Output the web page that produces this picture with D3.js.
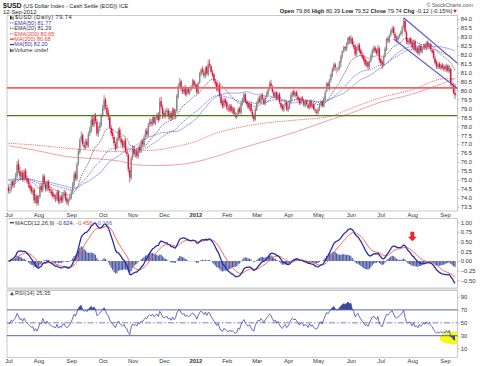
<!DOCTYPE html>
<html><head><meta charset="utf-8">
<script src="https://cdn.jsdelivr.net/npm/d3@7"></script>
<style>body{margin:0;background:#fff}svg{display:block;font-family:Arial,"Liberation Sans",sans-serif}text{white-space:pre}</style>
</head><body><svg id="c" width="480" height="366"></svg>
<script>
// ---------- DATA (daily, weekdays 1-Jul-2011 .. 12-Sep-2012) ----------
const closes = [
74.40,74.45,74.85,74.70,74.95,75.25,75.85,75.55,75.20,75.35,75.05,75.45,75.10,74.90,74.75,74.55,74.35,74.40,73.85,74.05,73.70,
74.00,74.60,74.45,75.15,74.80,74.50,74.85,74.55,74.40,74.25,74.10,74.05,73.95,74.30,73.80,74.00,73.85,74.15,74.25,73.90,73.75,73.85,74.05,
74.30,74.75,75.30,75.10,75.85,76.60,77.20,77.45,77.00,76.85,77.10,76.95,77.55,77.80,78.35,78.10,78.55,78.30,77.60,77.85,78.10,78.55,
79.00,79.45,79.10,78.70,78.55,77.95,77.60,77.45,77.05,76.75,77.30,77.75,77.35,77.10,76.90,77.15,76.60,76.45,75.60,75.15,76.20,
76.70,76.45,76.55,76.35,76.80,76.65,77.10,77.00,77.35,77.70,77.55,78.05,78.30,78.15,78.45,78.20,78.40,78.60,78.35,79.35,79.10,78.70,
78.60,78.75,78.85,78.55,78.70,78.45,78.90,78.60,78.80,79.70,80.25,80.45,80.10,79.95,80.15,79.80,80.05,79.90,80.00,80.20,80.50,80.30,
80.25,79.90,80.40,80.95,81.15,81.05,80.85,81.25,80.95,81.45,81.40,81.05,80.85,80.55,80.40,80.05,80.25,79.70,79.30,79.15,79.45,79.30,
79.05,78.95,79.10,78.85,78.95,78.70,78.55,78.60,78.95,78.80,79.25,79.50,79.75,79.40,79.25,79.05,79.20,78.85,78.55,78.40,78.95,
79.25,79.50,79.40,79.70,79.55,79.30,79.60,79.85,80.05,80.35,80.25,79.95,79.70,79.85,79.55,79.75,79.35,79.10,78.95,79.15,79.30,78.95,
79.10,79.35,79.75,79.90,79.75,79.85,79.70,79.50,79.30,79.55,79.45,79.20,79.35,79.25,79.05,79.35,79.10,79.20,78.95,78.85,78.80,
78.95,79.20,79.35,79.15,79.55,79.90,80.35,80.25,80.60,80.90,81.20,81.45,81.30,81.20,81.25,81.55,81.90,82.20,82.40,82.35,82.60,82.95,82.85,
82.95,82.60,82.45,82.05,82.35,82.50,82.20,82.05,81.85,81.70,81.45,81.55,81.35,81.60,81.95,82.25,82.35,82.20,82.10,82.40,81.70,
81.55,81.45,81.90,82.35,82.85,82.80,83.05,83.35,83.45,83.20,82.95,82.85,83.00,83.10,83.25,83.50,83.85,83.30,82.75,82.70,82.85,82.65,
82.40,82.70,82.25,82.35,82.10,82.45,82.20,82.35,82.50,82.40,82.65,82.45,82.55,82.30,82.15,81.85,81.55,81.35,81.45,81.30,81.40,81.25,81.30,
81.20,81.35,81.10,81.25,80.40,80.30,79.86,79.74];
const opens = [
74.55,74.40,74.50,74.90,74.65,75.00,75.20,75.90,75.50,75.15,75.40,75.00,75.50,75.05,74.95,74.70,74.60,74.30,74.45,73.80,74.10,
73.75,74.05,74.65,74.40,75.20,74.75,74.45,74.90,74.50,74.35,74.30,74.15,74.00,73.90,74.35,73.75,74.05,73.80,74.10,74.30,73.95,73.70,73.90,
74.00,74.35,74.70,75.35,75.05,75.90,76.55,77.25,77.50,76.95,76.80,77.15,76.90,77.60,77.75,78.40,78.05,78.60,78.25,77.55,77.90,78.05,
78.60,78.95,79.50,79.05,78.75,78.50,77.90,77.65,77.40,77.00,76.80,77.25,77.80,77.30,77.15,76.85,77.20,76.55,76.40,75.55,75.10,
76.25,76.75,76.40,76.60,76.30,76.85,76.60,77.15,76.95,77.40,77.75,77.50,78.10,78.25,78.10,78.50,78.15,78.45,78.65,78.40,79.40,79.05,
78.75,78.55,78.80,78.90,78.50,78.75,78.40,78.95,78.55,78.85,79.65,80.30,80.50,80.05,79.90,80.20,79.75,80.10,79.85,80.05,80.15,80.55,
80.30,80.30,79.85,80.45,80.90,81.20,81.00,80.80,81.30,80.90,81.50,81.35,81.00,80.90,80.50,80.45,80.00,80.30,79.65,79.35,79.10,79.50,
79.35,79.00,78.90,79.15,78.80,79.00,78.65,78.50,78.65,79.00,78.75,79.30,79.45,79.80,79.35,79.30,79.00,79.25,78.80,78.60,78.35,
78.90,79.30,79.55,79.35,79.75,79.50,79.25,79.65,79.80,80.10,80.40,80.20,79.90,79.65,79.90,79.50,79.80,79.30,79.15,78.90,79.20,79.35,
78.90,79.05,79.40,79.70,79.95,79.70,79.90,79.65,79.55,79.25,79.60,79.40,79.15,79.40,79.20,79.00,79.40,79.05,79.25,78.90,78.80,
78.75,78.95,79.25,79.40,79.10,79.50,79.95,80.40,80.10,80.60,80.80,81.15,81.45,81.15,81.20,81.25,81.55,81.90,82.20,82.45,82.30,82.60,82.95,
82.70,82.90,82.55,82.50,82.00,82.30,82.55,82.25,82.00,81.90,81.75,81.40,81.60,81.30,81.65,81.90,82.20,82.40,82.25,82.05,82.35,
81.75,81.60,81.40,81.95,82.30,82.90,82.75,83.10,83.30,83.50,83.15,82.90,82.80,83.05,83.15,83.20,83.55,83.90,83.25,82.80,82.65,82.90,
82.70,82.35,82.75,82.20,82.40,82.05,82.50,82.15,82.40,82.55,82.35,82.70,82.40,82.60,82.25,82.20,81.80,81.60,81.30,81.50,81.25,81.45,81.20,
81.35,81.15,81.40,81.05,81.20,80.35,80.25,79.86];
const highs = [
74.70,74.65,74.95,74.98,75.10,75.40,76.05,76.15,75.75,75.50,75.55,75.60,75.65,75.25,75.10,74.90,74.70,74.60,74.55,74.20,74.20,
74.15,74.75,74.80,75.30,75.35,74.90,75.00,75.00,74.65,74.50,74.45,74.25,74.20,74.45,74.45,74.15,74.20,74.30,74.45,74.40,74.05,73.95,74.20,
74.45,74.90,75.45,75.50,76.00,76.75,77.35,77.70,77.60,77.15,77.30,77.30,77.70,78.00,78.55,78.65,78.70,78.75,78.40,78.00,78.25,78.70,
79.20,79.75,79.60,79.20,78.95,78.60,78.05,77.85,77.50,77.15,77.40,77.90,77.95,77.45,77.25,77.30,77.35,76.80,76.50,75.70,76.35,
76.95,76.90,76.70,76.75,76.90,77.00,77.25,77.30,77.50,77.85,77.90,78.20,78.45,78.40,78.55,78.60,78.55,78.75,78.80,79.60,79.65,79.20,
78.90,78.95,79.05,79.00,78.85,78.85,79.05,79.05,78.95,79.80,80.40,80.70,80.60,80.20,80.25,80.30,80.20,80.20,80.10,80.30,80.65,80.60,
80.45,80.40,80.50,81.05,81.25,81.35,81.15,81.35,81.40,81.70,81.75,81.45,81.15,80.95,80.65,80.50,80.40,80.40,79.80,79.50,79.60,79.60,
79.45,79.20,79.25,79.25,79.10,79.10,78.80,78.75,79.05,79.10,79.35,79.60,79.90,79.85,79.50,79.40,79.30,79.35,78.95,78.70,79.05,
79.40,79.65,79.70,79.85,79.85,79.60,79.70,79.95,80.20,80.50,80.60,80.30,80.00,79.95,79.95,79.85,79.90,79.40,79.25,79.25,79.45,79.40,
79.25,79.45,79.90,80.00,80.05,79.95,80.00,79.75,79.60,79.65,79.70,79.50,79.45,79.50,79.30,79.45,79.50,79.30,79.30,79.00,78.95,
79.05,79.30,79.45,79.45,79.65,80.00,80.45,80.50,80.65,80.95,81.30,81.55,81.55,81.30,81.35,81.65,82.00,82.25,82.50,82.45,82.70,83.00,83.05,
83.10,83.00,82.75,82.60,82.45,82.65,82.65,82.35,82.15,82.00,81.85,81.70,81.65,81.70,82.05,82.35,82.50,82.50,82.35,82.55,82.45,
81.85,81.70,82.00,82.45,82.95,83.05,83.15,83.45,83.60,83.60,83.25,83.05,83.10,83.20,83.35,83.65,84.05,83.95,83.35,82.95,82.95,83.00,
82.80,82.85,82.85,82.45,82.50,82.55,82.60,82.45,82.60,82.65,82.75,82.80,82.65,82.65,82.35,82.30,81.95,81.70,81.55,81.60,81.50,81.55,81.45,
81.45,81.50,81.45,81.40,81.30,80.50,80.40,80.39];
const lows = [
74.25,74.20,74.35,74.55,74.55,74.85,75.10,75.35,75.05,75.00,74.90,74.90,75.00,74.80,74.55,74.40,74.20,74.15,73.70,73.65,73.55,
73.60,73.95,74.30,74.30,74.65,74.35,74.35,74.40,74.25,74.10,74.00,73.90,73.75,73.80,73.65,73.65,73.70,73.70,74.00,73.80,73.60,73.55,73.80,
73.90,74.20,74.60,74.95,74.95,75.80,76.45,77.10,76.90,76.70,76.70,76.80,76.80,77.45,77.65,77.95,77.95,78.15,77.45,77.40,77.70,77.95,
78.50,78.85,78.95,78.55,78.35,77.85,77.45,77.30,76.90,76.60,76.70,77.15,77.20,76.95,76.75,76.75,76.50,76.30,75.40,74.85,75.00,
76.10,76.30,76.25,76.20,76.20,76.50,76.50,76.85,76.85,77.25,77.40,77.40,77.95,78.00,78.00,78.10,78.05,78.35,78.20,78.30,78.95,78.40,
78.45,78.45,78.65,78.40,78.35,78.30,78.35,78.45,78.40,78.75,79.55,80.20,79.95,79.80,79.80,79.70,79.65,79.80,79.75,79.95,80.10,80.15,
80.10,79.80,79.80,80.35,80.80,80.95,80.70,80.70,80.85,80.80,81.25,80.95,80.75,80.45,80.25,79.95,79.90,79.60,79.20,79.00,79.00,79.15,
78.90,78.80,78.80,78.75,78.70,78.60,78.45,78.40,78.55,78.70,78.65,79.15,79.35,79.30,79.15,78.95,78.90,78.75,78.45,78.25,78.30,
78.85,79.20,79.30,79.25,79.45,79.20,79.15,79.55,79.70,80.00,80.10,79.85,79.60,79.55,79.45,79.45,79.25,79.00,78.85,78.80,79.10,78.85,
78.80,78.95,79.30,79.60,79.65,79.60,79.60,79.40,79.20,79.20,79.35,79.10,79.05,79.15,78.95,78.95,79.00,79.00,78.90,78.75,78.65,
78.65,78.85,79.10,79.05,79.05,79.40,79.90,80.05,80.00,80.45,80.75,81.05,81.10,80.95,81.05,81.15,81.30,81.80,82.10,82.20,82.20,82.50,82.60,
82.60,82.50,82.30,81.90,81.90,82.20,82.10,81.95,81.75,81.60,81.35,81.30,81.15,81.20,81.55,81.85,82.10,82.10,82.00,81.95,81.55,
81.40,81.20,81.35,81.85,82.20,82.65,82.65,83.00,83.20,83.10,82.85,82.70,82.70,82.90,83.05,83.10,83.45,83.20,82.60,82.55,82.55,82.55,
82.30,82.25,82.15,82.10,82.00,81.95,82.10,82.05,82.30,82.30,82.25,82.35,82.35,82.20,82.05,81.75,81.45,81.20,81.20,81.20,81.15,81.15,81.10,
81.05,81.05,81.00,80.95,80.25,80.10,79.80,79.52];

const monthLabels = ["Jul","Aug","Sep","Oct","Nov","Dec","2012","Feb","Mar","Apr","May","Jun","Jul","Aug","Sep"];
const priceTicks = [73.5,74,74.5,75,75.5,76,76.5,77,77.5,78,78.5,79,79.5,80,80.5,81,81.5,82,82.5,83,83.5,84];
const macdTicks = [-0.5,-0.25,0,0.25,0.5,0.75,1.0];
const rsiTicks = [10,30,50,70,90];
const rsiBands = [30,70];
const rsiMid = [50];
const ma200Idx  = [0,18,41,64,78,89,103,117,131,145,159,179,202,225,240,259,283,306,313];
const ma200Vals = [76.91,76.67,76.30,76.17,76.05,75.85,75.80,75.84,76.00,76.30,76.67,77.14,77.70,78.35,78.73,79.30,79.80,80.45,80.68];
const ema200Vals= [77.05,76.95,76.77,76.62,76.58,76.62,76.67,76.86,77.14,77.60,77.89,78.17,78.35,78.55,79.00,79.55,80.05,80.66,80.65];
// starting levels of the short averages at the left edge
const ema20Start = 74.80, ema50Start = 75.00, ma50Start = 75.05;
const rsiStartGain = 0.14, rsiStartLoss = 0.15;
// annotations
const levelLines = [80.15, 78.60];
const channelUpper = [[277,84.07],[315,81.50]];
const channelLower = [[270,82.88],[315,80.10]];
const arrowAt = [[281, 0.50]];
const legendMain = [
  {t:"EMA(50) 81.77", c:"#3434c8", dash:"1.2,1"},
  {t:"EMA(20) 81.29", c:"#333", dash:"1.2,1"},
  {t:"EMA(200) 80.65", c:"#ee3a3a", dash:"1.2,1"},
  {t:"MA(200) 80.68", c:"#ee3a3a", dash:null},
  {t:"MA(50) 82.20", c:"#3434c8", dash:null}
];
const macdLegend = [["MACD(12,26,9)","#333"],["-0.624,","#2c2ca6"],["-0.458,","#ee4a3a"],["-0.166","#5a66b8"]];

// ---------- DERIVED INDICATORS ----------
function emaSeries(vals, n, seed){const k=2/(n+1);let e=seed;return vals.map(v=>(e=e+k*(v-e)));}
const ema20 = emaSeries(closes,20,ema20Start);
const ema50 = emaSeries(closes,50,ema50Start);
const ma50 = closes.map((c,i)=>{let s=0;for(let j=i-49;j<=i;j++)s+= j>=0?closes[j]:ma50Start;return s/50;});
const e12 = emaSeries(closes,12,closes[0]), e26 = emaSeries(closes,26,closes[0]);
const macd = e12.map((v,i)=>v-e26[i]);
const signal = emaSeries(macd,9,0);
const hist = macd.map((v,i)=>v-signal[i]);
const rsi=[];{let ag=rsiStartGain,al=rsiStartLoss;rsi.push(100-100/(1+ag/al));
 for(let i=1;i<closes.length;i++){const ch=closes[i]-closes[i-1];ag=(ag*13+Math.max(ch,0))/14;al=(al*13+Math.max(-ch,0))/14;rsi.push(100-100/(1+ag/al));}}

// ---------- DATES ----------
const dates=[];for(let d=new Date(2011,6,1);d<=new Date(2012,8,12);d.setDate(d.getDate()+1)){const w=d.getDay();if(w>0&&w<6)dates.push(new Date(d));}
const N = Math.min(dates.length, closes.length);
const idx = d3.range(N);
const monthStarts = idx.filter(i=>i===0||dates[i].getMonth()!==dates[i-1].getMonth());

// ---------- LAYOUT ----------
const L=7, R=457.5;
const P = {main:[15.5,211], macd:[218.5,288], rsi:[290.5,357.5]};
const svg=d3.select('#c');
const x=d3.scaleLinear().domain([0,313]).range([8.5,455]);
const yM=d3.scaleLinear().domain([73.5,84]).range([206.7,19]);
const yD=d3.scaleLinear().domain([-0.5,1.0]).range([280.3,222.4]);
const yR=d3.scaleLinear().domain([10,90]).range([348.6,297.0]);

const defs=svg.append('defs');
Object.entries(P).forEach(([k,[t,b]])=>defs.append('clipPath').attr('id','cl'+k).append('rect').attr('x',L).attr('y',t).attr('width',R-L).attr('height',b-t));

svg.append('rect').attr('x',L).attr('y',287.8).attr('width',R-L).attr('height',2.8).attr('fill','#e2e2e2');
Object.values(P).forEach(([t,b])=>svg.append('rect').attr('x',L).attr('y',t).attr('width',R-L).attr('height',b-t).attr('fill','#fff').attr('stroke','#bdbdbd').attr('stroke-width',0.8));

// ---------- HEADER ----------
const hdr=svg.append('text').attr('x',3).attr('y',8.2).attr('fill','#222');
hdr.append('tspan').attr('font-weight','bold').attr('font-size',7).text('$USD');
hdr.append('tspan').attr('font-size',5.6).text(' (US Dollar Index - Cash Settle (EOD)) ICE');
svg.append('text').attr('x',3).attr('y',14).attr('font-size',5.8).attr('fill','#222').text('12-Sep-2012');
svg.append('text').attr('x',473).attr('y',7.3).attr('font-size',5.4).attr('fill','#555').attr('text-anchor','end').text('\u00A9 StockCharts.com');
{
 const n=N-1, chg=closes[n]-closes[n-1], pct=chg/closes[n-1]*100;
 const t=svg.append('text').attr('x',458).attr('y',12.6).attr('font-size',5.7).attr('fill','#222').attr('text-anchor','end');
 const parts=[['Open ',opens[n].toFixed(2)],[' High ',highs[n].toFixed(2)],[' Low ',lows[n].toFixed(2)],[' Close ',closes[n].toFixed(2)],[' Chg ',chg.toFixed(2)+' ('+pct.toFixed(2)+'%)']];
 parts.forEach(([a,b])=>{t.append('tspan').attr('font-weight','bold').text(a);t.append('tspan').text(b);});
 t.append('tspan').attr('fill','#d0102a').text('\u25BC');
}

// ---------- MAIN PANEL ----------
const gm=svg.append('g').attr('clip-path','url(#clmain)');
const line=(arr)=>d3.line().x((d,i)=>x(i)).y(d=>yM(d))(arr.slice(0,N));
const sparse=d3.line().curve(d3.curveMonotoneX).x(d=>x(d[0])).y(d=>yM(d[1]));
gm.append('path').attr('d',sparse(ma200Idx.map((k,i)=>[k,ma200Vals[i]]))).attr('fill','none').attr('stroke','#f5a0a0').attr('stroke-width',1);
gm.append('path').attr('d',sparse(ma200Idx.map((k,i)=>[k,ema200Vals[i]]))).attr('fill','none').attr('stroke','#f06060').attr('stroke-width',0.9).attr('stroke-dasharray','1.2,1');
gm.append('path').attr('d',line(ma50)).attr('fill','none').attr('stroke','#a4a4ec').attr('stroke-width',1);
gm.append('path').attr('d',line(ema50)).attr('fill','none').attr('stroke','#4a4ad0').attr('stroke-width',0.8).attr('stroke-dasharray','1.2,1');
gm.append('path').attr('d',line(ema20)).attr('fill','none').attr('stroke','#444').attr('stroke-width',0.8).attr('stroke-dasharray','1.2,1');

function candleColor(i){
  const prev = i>0?closes[i-1]:opens[i];
  const up = closes[i]>=prev, hollow = closes[i]>opens[i];
  return up ? (hollow?['#8a8a8a','#666']:['#2a2a2a','#2a2a2a']) : (hollow?['#f39aae','#ee7088']:['#e2103a','#e2103a']);
}
gm.selectAll('line.wick').data(idx).join('line').attr('class','wick')
  .attr('x1',i=>x(i)).attr('x2',i=>x(i))
  .attr('y1',i=>yM(Math.max(highs[i],opens[i],closes[i]))).attr('y2',i=>yM(Math.min(lows[i],opens[i],closes[i])))
  .attr('stroke',i=>candleColor(i)[1]).attr('stroke-width',0.7);
gm.selectAll('rect.body').data(idx).join('rect').attr('class','body')
  .attr('x',i=>x(i)-0.7).attr('width',1.4)
  .attr('y',i=>yM(Math.max(opens[i],closes[i])))
  .attr('height',i=>Math.max(0.6,Math.abs(yM(opens[i])-yM(closes[i]))))
  .attr('fill',i=>candleColor(i)[0]);

gm.selectAll('line.lvl').data(levelLines).join('line').attr('x1',L).attr('x2',R)
  .attr('y1',d=>yM(d)).attr('y2',d=>yM(d))
  .attr('stroke',(d,i)=>i===0?'#f26464':'#4d7a22').attr('stroke-width',(d,i)=>i===0?1.8:1.3);
[channelUpper,channelLower].forEach(c=>gm.append('line').attr('x1',x(c[0][0])).attr('y1',yM(c[0][1])).attr('x2',x(c[1][0])).attr('y2',yM(c[1][1])).attr('stroke','#5656cc').attr('stroke-width',1.1));

{
 const lg=svg.append('g').attr('font-size',5.5);
 lg.append('rect').attr('x',10).attr('y',16.2).attr('width',1.6).attr('height',3).attr('fill','#222');
 lg.append('line').attr('x1',10.8).attr('x2',10.8).attr('y1',15.8).attr('y2',19.8).attr('stroke','#222').attr('stroke-width',0.5);
 lg.append('rect').attr('x',12.2).attr('y',17).attr('width',1.6).attr('height',2.4).attr('fill','none').attr('stroke','#222').attr('stroke-width',0.4);
 lg.append('text').attr('x',15).attr('y',19.3).attr('fill','#222').attr('letter-spacing',0.45).attr('font-size',5.7).text('$USD (Daily) '+closes[N-1].toFixed(2));
 legendMain.forEach((d,k)=>{
   const yy=24.6+k*5.45;
   lg.append('line').attr('x1',10).attr('x2',14).attr('y1',yy-1.8).attr('y2',yy-1.8).attr('stroke',d.c).attr('stroke-width',d.dash?0.9:1.3).attr('stroke-dasharray',d.dash);
   lg.append('text').attr('x',14.3).attr('y',yy).attr('fill',d.c).text(d.t);
 });
 const yv=24.6+5*5.45;
 lg.append('rect').attr('x',10).attr('y',yv-3.2).attr('width',0.9).attr('height',3.2).attr('fill','#333');
 lg.append('rect').attr('x',11.3).attr('y',yv-2.3).attr('width',0.9).attr('height',2.3).attr('fill','#333');
 lg.append('rect').attr('x',12.6).attr('y',yv-2.8).attr('width',0.9).attr('height',2.8).attr('fill','#333');
 lg.append('text').attr('x',14.3).attr('y',yv).attr('fill','#333').text('Volume undef');
}

function styleAxis(g){g.select('.domain').remove();g.selectAll('.tick line').attr('stroke','#999').attr('stroke-width',0.6);g.selectAll('text').attr('font-size',5.8).attr('fill','#333').attr('font-family','Arial,"Liberation Sans",sans-serif');}
svg.append('g').attr('transform',`translate(${R},0)`).call(d3.axisRight(yM).tickValues(priceTicks).tickFormat(d3.format('.1f')).tickSize(2).tickPadding(1.2)).call(styleAxis);
svg.append('g').attr('transform',`translate(${R},0)`).call(d3.axisRight(yD).tickValues(macdTicks).tickFormat(d3.format('.2f')).tickSize(2).tickPadding(1.2)).call(styleAxis);
svg.append('g').attr('transform',`translate(${R},0)`).call(d3.axisRight(yR).tickValues(rsiTicks).tickFormat(d3.format('d')).tickSize(2).tickPadding(1.2)).call(styleAxis);
function monthAxis(yPos){
 const g=svg.append('g').attr('transform',`translate(0,${yPos})`).call(d3.axisBottom(x).tickValues(monthStarts).tickFormat((d,i)=>monthLabels[i]).tickSize(0).tickPadding(1.5)).call(styleAxis);
 g.selectAll('text').attr('font-weight',(d,i)=>monthLabels[i]==='2012'?'bold':null);
}
monthAxis(211.3); monthAxis(357.8);

// ---------- MACD PANEL ----------
const gd=svg.append('g').attr('clip-path','url(#clmacd)');
gd.selectAll('rect.h').data(idx).join('rect').attr('x',i=>x(i)-0.6).attr('width',1.2)
  .attr('y',i=>Math.min(yD(0),yD(hist[i]))).attr('height',i=>Math.abs(yD(hist[i])-yD(0)))
  .attr('fill','#34449a').attr('opacity',0.88);
const lineD=(arr)=>d3.line().x((d,i)=>x(i)).y(d=>yD(d))(arr.slice(0,N));
gd.append('path').attr('d',lineD(signal)).attr('fill','none').attr('stroke','#f26a58').attr('stroke-width',1);
gd.append('path').attr('d',lineD(macd)).attr('fill','none').attr('stroke','#2c2ca6').attr('stroke-width',1.3);
arrowAt.forEach(([k,v])=>{const cx=x(k)+3,ty=yD(v)-10;
  gd.append('path').attr('d',`M${cx-2},${ty} h4 v5 h2.5 l-4.5,4.5 l-4.5,-4.5 h2.5 z`).attr('fill','#e42a2e');});
{
 svg.append('line').attr('x1',10).attr('x2',14).attr('y1',222.7).attr('y2',222.7).attr('stroke','#2c2ca6').attr('stroke-width',1.3);
 let xx=15;
 macdLegend.forEach(([s,c])=>{
   const t=svg.append('text').attr('x',xx).attr('y',224.6).attr('font-size',5.7).attr('fill',c).text(s);
   xx += t.node().getComputedTextLength()+2;
 });
}

// ---------- RSI PANEL ----------
const gr=svg.append('g').attr('clip-path','url(#clrsi)');
gr.append('ellipse').attr('cx',453).attr('cy',337.8).attr('rx',13.5).attr('ry',6.3).attr('fill','#f8f800').attr('opacity',0.9);
gr.append('path').attr('d',d3.area().x((d,i)=>x(i)).y0(yR(70)).y1(d=>yR(Math.max(d,70)))(rsi.slice(0,N))).attr('fill','#3a4a90');
gr.append('path').attr('d',d3.area().x((d,i)=>x(i)).y0(yR(30)).y1(d=>yR(Math.min(d,30)))(rsi.slice(0,N))).attr('fill','#3a4a90');
gr.selectAll('line.band').data(rsiBands).join('line').attr('x1',L).attr('x2',R).attr('y1',d=>yR(d)).attr('y2',d=>yR(d)).attr('stroke','#5563b4').attr('stroke-width',1);
gr.selectAll('line.mid').data(rsiMid).join('line').attr('x1',L).attr('x2',R).attr('y1',d=>yR(d)).attr('y2',d=>yR(d)).attr('stroke','#5563b4').attr('stroke-width',0.8).attr('stroke-dasharray','6,2,1.5,2');
gr.append('path').attr('d',d3.line().x((d,i)=>x(i)).y(d=>yR(d))(rsi.slice(0,N))).attr('fill','none').attr('stroke','#4242b4').attr('stroke-width',0.8);
{
 svg.append('path').attr('d','M10,295.2 l2,-3.4 l2,3.4 z').attr('fill','#3a4a90');
 svg.append('text').attr('x',15).attr('y',295.3).attr('font-size',5.7).attr('fill','#333').text('RSI(14) 25.35');
}
</script></body></html>
